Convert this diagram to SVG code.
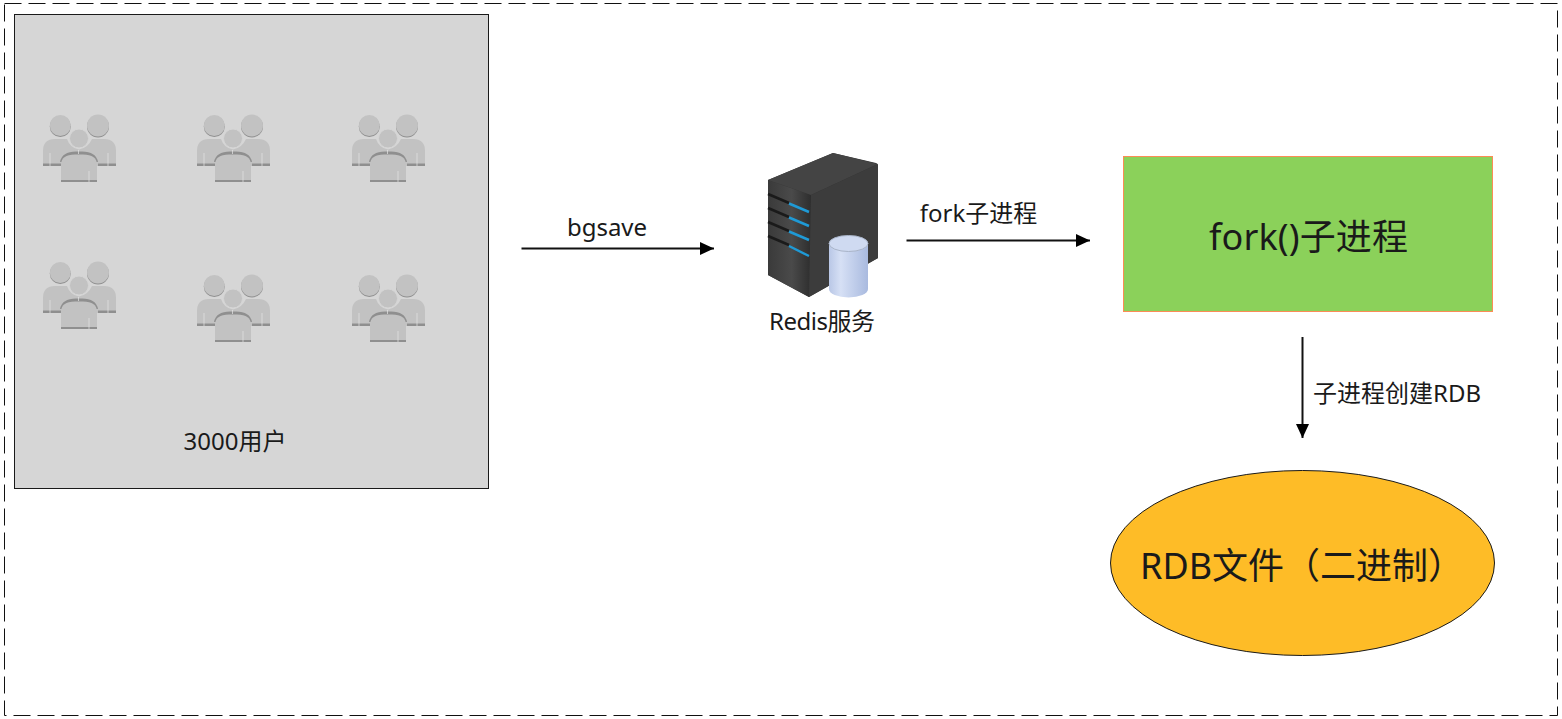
<svg xmlns="http://www.w3.org/2000/svg" width="1562" height="719" viewBox="0 0 1562 719">
<style>
text{font-family:"Noto Sans","Noto Sans CJK SC",sans-serif;fill:#1a1a1a}
.s{font-size:24px}.l{font-size:36px}
.c{stroke:#111;stroke-width:2;fill:none;marker-end:url(#a)}
</style>
<defs>
<marker id="a" markerUnits="userSpaceOnUse" markerWidth="15" markerHeight="14" refX="14" refY="6.500" orient="auto"><path d="M0 0L14 6.500L0 13Z" fill="#000"/></marker>
<linearGradient id="cyl" x1="0" x2="1" y1="0" y2="0"><stop offset="0" stop-color="#b9c7e6"/><stop offset=".3" stop-color="#d6e0f5"/><stop offset="1" stop-color="#a9badf"/></linearGradient>
<linearGradient id="lf" x1="0" x2="1" y1="0" y2="0"><stop offset="0" stop-color="#3a3a3a"/><stop offset=".55" stop-color="#4a4a4a"/><stop offset="1" stop-color="#2e2e2e"/></linearGradient>
<g id="u">
<circle cx="17.300" cy="11.500" r="10.500" fill="#8f8f8f"/><circle cx="17.300" cy="10.500" r="10.500" fill="#c2c2c2"/>
<circle cx="55" cy="11.500" r="11" fill="#8f8f8f"/><circle cx="55" cy="10.500" r="11" fill="#c2c2c2"/>
<path d="M0 51V36Q0 24 12 24H24Q27 33 36 34.500Q45 33 49 24H61Q73 24 73 36V51Z" fill="#c2c2c2"/>
<path d="M0 48.500H18V51H0ZM55 48.500H73V51H55Z" fill="#8f8f8f"/>
<circle cx="36" cy="23.500" r="9.500" fill="#c2c2c2" stroke="#d6d6d6" stroke-width="1"/>
<path d="M17 47Q19 36.500 33 36.500H39Q53 36.500 55 47Z" fill="#8f8f8f"/>
<path d="M18 67V50Q18 39.500 32 39.500H40Q54 39.500 54 50V67Z" fill="#c2c2c2"/>
<path d="M18 65H54V67H18Z" fill="#8f8f8f"/>
<path d="M35.500 35V39M7 38V51M65 38V51M46 56V67" stroke="#e6e6e6" stroke-width="1" fill="none" opacity=".7"/>
</g>
</defs>
<rect id="frame" x="4.500" y="3.500" width="1553" height="712" fill="#fff" stroke="#111" stroke-width="1" stroke-dasharray="17 7"/>
<g id="users">
<rect x="14.500" y="14.500" width="474" height="474" fill="#d6d6d6" stroke="#1a1a1a" stroke-width="1"/>
<use href="#u" x="43" y="115"/><use href="#u" x="197" y="115"/><use href="#u" x="352" y="115"/>
<use href="#u" x="43" y="262"/><use href="#u" x="197" y="275"/><use href="#u" x="352" y="275"/>
<text class="s" x="235" y="450" text-anchor="middle">3000用户</text>
</g>
<g id="connectors">
<path class="c" d="M521.500 248.500H714"/>
<path class="c" d="M906.500 240.500H1090"/>
<path class="c" d="M1302.500 337V438"/>
</g>
<text class="s" x="607" y="236" text-anchor="middle">bgsave</text>
<text class="s" x="978.500" y="222" text-anchor="middle">fork子进程</text>
<text class="s" x="1397" y="402" text-anchor="middle">子进程创建RDB</text>
<g id="redis">
<path d="M768 180L833 153L876 163Q878 164 878 166V258L809 297L768 275Z" fill="#333"/>
<path d="M768 180L811 195L809 297L768 275Z" fill="url(#lf)"/>
<path d="M768 180L833 153L878 164L811 195Z" fill="#444"/>
<path d="M811 195L878 164V258L809 297Z" fill="#3c3c3c"/>
<g fill="none">
<path d="M768 194L789 203M768 208L789 217M768 222L789 231M768 236L789 245" stroke="#1a1a1a" stroke-width="2.500"/>
<path d="M789 203.500L809 212M789 217.500L809 226M789 231.500L809 240M789 246L809 256" stroke="#1f9ad6" stroke-width="2.500"/>
</g>
<path d="M829 243V289A19.500 8.500 0 0 0 868 289V243Z" fill="url(#cyl)"/>
<ellipse cx="848.500" cy="243.500" rx="19.500" ry="8" fill="#cfdaf1" stroke="#a9b4c8"/>
<text class="s" x="822" y="330" text-anchor="middle" textLength="106">Redis服务</text>
</g>
<g id="fork">
<rect x="1123.500" y="156.500" width="369" height="155" fill="#8bd15a" stroke="#fb8c55" stroke-width="1"/>
<text class="l" x="1308.500" y="250" text-anchor="middle" textLength="199">fork()子进程</text>
</g>
<g id="rdb">
<ellipse cx="1302.500" cy="563" rx="192" ry="92.500" fill="#febc27" stroke="#1a1a1a" stroke-width="1"/>
<text class="l" x="1140" y="579">RDB文件（二进制）</text>
</g>
</svg>
